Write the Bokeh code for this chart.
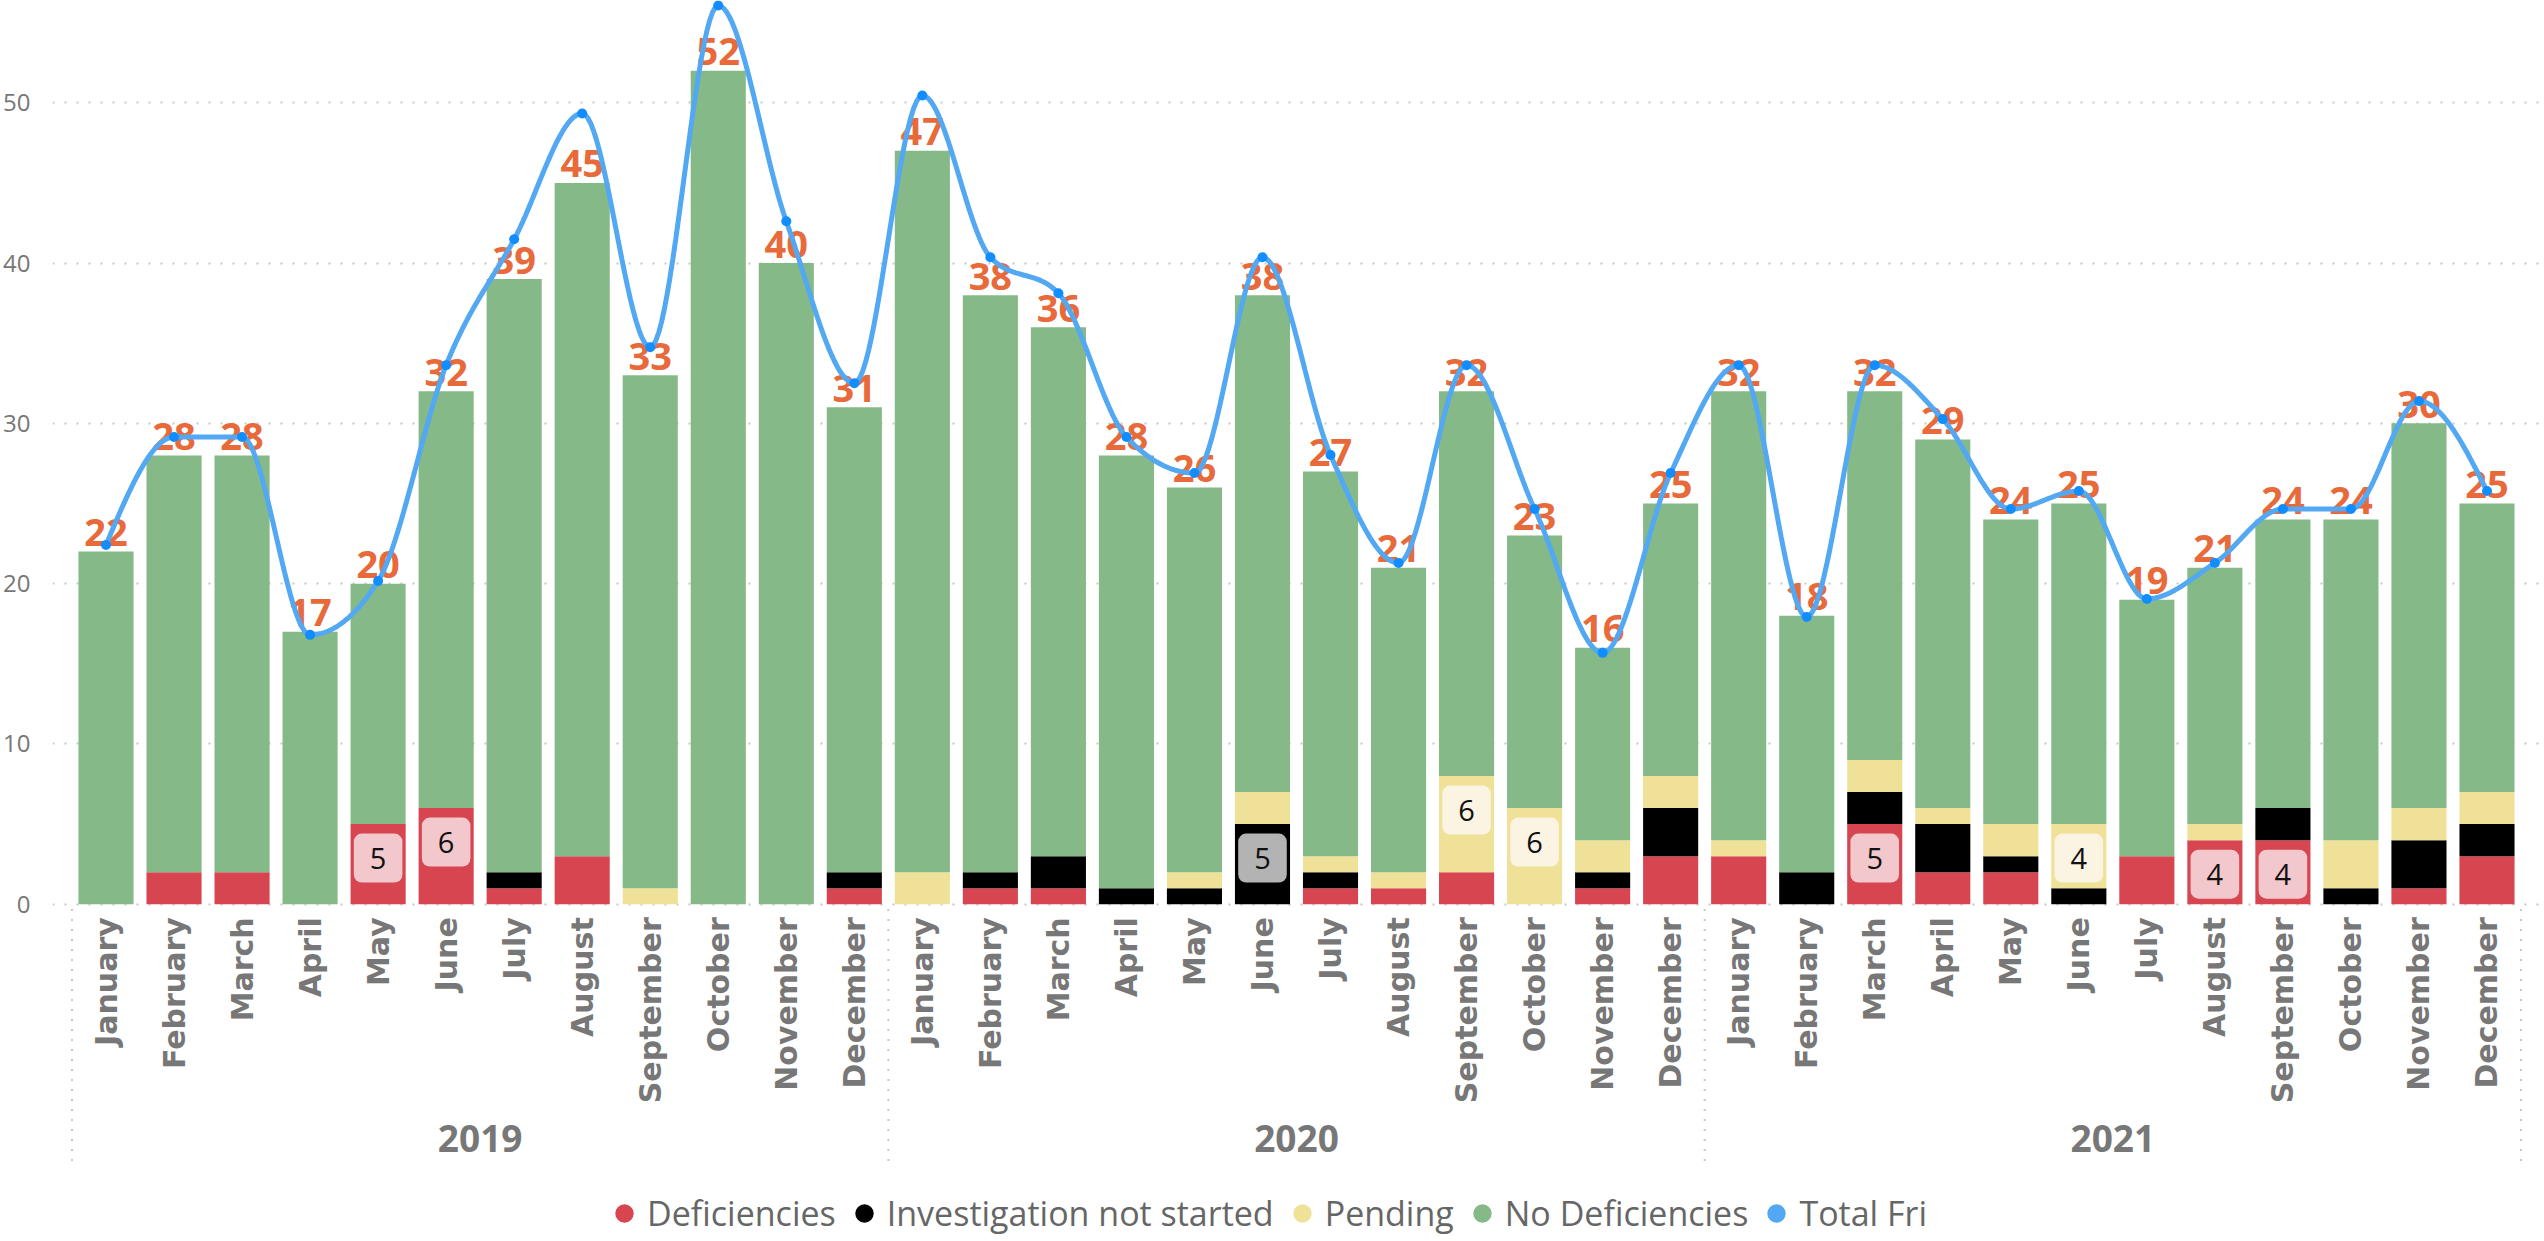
import math
from bokeh.plotting import figure
from bokeh.models import (FactorRange, Range1d, ColumnDataSource, FixedTicker,
                          Legend, LegendItem)
from bokeh.core.properties import value
from bokeh.embed import file_html
from bokeh.resources import INLINE

# ---------------- data ----------------
years = ["2019", "2020", "2021"]
months = ["January", "February", "March", "April", "May", "June", "July",
          "August", "September", "October", "November", "December"]

deficiencies = [0, 2, 2, 0, 5, 6, 1, 3, 0, 0, 0, 1,
                0, 1, 1, 0, 0, 0, 1, 1, 2, 0, 1, 3,
                3, 0, 5, 2, 2, 0, 3, 4, 4, 0, 1, 3]
investigation = [0, 0, 0, 0, 0, 0, 1, 0, 0, 0, 0, 1,
                 0, 1, 2, 1, 1, 5, 1, 0, 0, 0, 1, 3,
                 0, 2, 2, 3, 1, 1, 0, 0, 2, 1, 3, 2]
pending = [0, 0, 0, 0, 0, 0, 0, 0, 1, 0, 0, 0,
           2, 0, 0, 0, 1, 2, 1, 1, 6, 6, 2, 2,
           1, 0, 2, 1, 2, 4, 0, 1, 0, 3, 2, 2]
no_deficiencies = [22, 26, 26, 17, 15, 26, 37, 42, 32, 52, 40, 29,
                   45, 36, 33, 27, 24, 31, 24, 19, 24, 17, 12, 17,
                   28, 16, 23, 23, 19, 20, 16, 16, 18, 20, 24, 18]
total_fri = [22, 28, 28, 17, 20, 32, 39, 46, 33, 52, 40, 31,
             47, 38, 36, 28, 26, 38, 27, 21, 32, 24, 16, 26,
             32, 18, 32, 29, 24, 25, 19, 21, 24, 24, 30, 25]
y_ticks = [0, 10, 20, 30, 40, 50]

series_names = ["Deficiencies", "Investigation not started", "Pending", "No Deficiencies"]
series_values = [deficiencies, investigation, pending, no_deficiencies]
series_colors = ["#D64550", "#000000", "#F0E199", "#86B988"]
box_colors = ["#F2C8CC", "#B3B3B3", "#FBF4E2", None]
line_color = "#52A8F2"
marker_color = "#118DFF"
label_color = "#E8693A"
grey = "#777777"

# ---------------- derived ----------------
factors = [(y, m) for y in years for m in months]
nf = len(factors)
totals = [sum(v[i] for v in series_values) for i in range(nf)]
keys = ["d", "i", "p", "n"]
src = ColumnDataSource(dict(x=factors, d=deficiencies, i=investigation,
                            p=pending, n=no_deficiencies, total=totals,
                            total_txt=[str(t) for t in totals],
                            month=[f[1] for f in factors],
                            zero=[0] * nf))

x_range = FactorRange(*factors, factor_padding=0, group_padding=0, subgroup_padding=0,
                      range_padding=0.2865, range_padding_units="absolute")

# frame covers the whole canvas; value 0 sits ~904px below the top (category labels below it)
p = figure(width=2540, height=1238, x_range=x_range, y_range=Range1d(-20.85, 56.38),
           output_backend="svg", toolbar_location=None,
           min_border_left=51, min_border_right=0, min_border_top=0, min_border_bottom=0)
p.extra_y_ranges = {"fri": Range1d(-16.57, 52.28)}
p.outline_line_color = None
p.background_fill_color = "white"

# stacked bars
p.vbar_stack(keys, x="x", width=0.81, source=src, fill_color=series_colors,
             line_color=None)

# in-bar value boxes
cum = [0] * nf
for s, vals in enumerate(series_values):
    tops = [cum[i] + vals[i] for i in range(nf)]
    if box_colors[s] is not None:
        idx = [i for i in range(nf) if vals[i] >= 4]
        if idx:
            lsrc = ColumnDataSource(dict(x=[factors[i] for i in idx],
                                         y=[tops[i] for i in idx],
                                         t=[str(vals[i]) for i in idx]))
            p.text(x="x", y="y", text="t", source=lsrc, y_offset=34,
                   text_align="center", text_baseline="middle",
                   text_font=value("Open Sans"), text_font_size="29px",
                   text_color="#111111",
                   background_fill_color=box_colors[s], padding=(16, 14),
                   border_radius=8)
    cum = tops

# total labels
p.text(x="x", y="total", text="total_txt", source=src, y_offset=-19,
       text_align="center", text_baseline="alphabetic",
       text_font=value("Open Sans"), text_font_size="38px",
       text_font_style="bold", text_color=label_color)

# smooth (monotone-x) line for Total Fri
xs = [i + 0.5 for i in range(nf)]
ys = total_fri
n = len(xs)
tan = [0.0] * n
for i in range(1, n - 1):
    h0 = xs[i] - xs[i - 1]
    h1 = xs[i + 1] - xs[i]
    s0 = (ys[i] - ys[i - 1]) / h0
    s1 = (ys[i + 1] - ys[i]) / h1
    pp = (s0 * h1 + s1 * h0) / (h0 + h1)
    sg = (-1 if s0 < 0 else 1) + (-1 if s1 < 0 else 1)
    tan[i] = sg * min(abs(s0), abs(s1), 0.5 * abs(pp))
tan[0] = (3 * (ys[1] - ys[0]) / (xs[1] - xs[0]) - tan[1]) / 2
tan[-1] = (3 * (ys[-1] - ys[-2]) / (xs[-1] - xs[-2]) - tan[-2]) / 2
cx, cy = [], []
steps = 24
for i in range(n - 1):
    h = xs[i + 1] - xs[i]
    for k in range(steps):
        u = k / steps
        h00 = 2 * u**3 - 3 * u**2 + 1
        h10 = u**3 - 2 * u**2 + u
        h01 = -2 * u**3 + 3 * u**2
        h11 = u**3 - u**2
        cx.append(xs[i] + u * h)
        cy.append(h00 * ys[i] + h10 * h * tan[i] + h01 * ys[i + 1] + h11 * h * tan[i + 1])
cx.append(xs[-1])
cy.append(ys[-1])
p.line(cx, cy, line_color=line_color, line_width=5, y_range_name="fri")
p.scatter(xs, ys, size=10, marker="circle", fill_color=marker_color,
          line_color=None, y_range_name="fri")

# category axis (month labels, year labels, year separators) drawn on the x scale
p.text(x="x", y="zero", text="month", source=src, angle=math.pi / 2,
       y_offset=13, text_align="right", text_baseline="middle",
       text_font=value("DejaVu Sans"), text_font_style="bold",
       text_font_size="30px", text_color=grey)
nm = len(months)
p.text(x=[nm * k + nm / 2 for k in range(len(years))], y=[0] * len(years), text=years,
       y_offset=234, text_align="center", text_baseline="middle",
       text_font=value("Open Sans"), text_font_style="bold",
       text_font_size="37px", text_color=grey)
sep_x = [nm * k for k in range(len(years) + 1)]
p.segment(x0=sep_x, y0=[-0.3] * len(sep_x), x1=sep_x, y1=[-16.5] * len(sep_x),
          line_color="#C8C8C8", line_width=2, line_dash="2 8")

# grid / axes
p.xaxis.visible = False
p.xgrid.grid_line_color = None
p.ygrid.ticker = FixedTicker(ticks=y_ticks)
p.ygrid.grid_line_color = "#C8C8C8"
p.ygrid.grid_line_dash = "2 10"
p.ygrid.grid_line_width = 2

p.yaxis.ticker = FixedTicker(ticks=y_ticks)
p.yaxis.axis_line_color = None
p.yaxis.major_tick_line_color = None
p.yaxis.minor_tick_line_color = None
p.yaxis.major_tick_out = 0
p.yaxis.major_label_text_font = "Open Sans"
p.yaxis.major_label_text_font_size = "24px"
p.yaxis.major_label_text_color = grey
p.yaxis.major_label_standoff = 22

# legend (circle markers) at the bottom
items = []
for k, (name, col) in enumerate(zip(series_names + ["Total Fri"], series_colors + [line_color])):
    r = p.scatter(x=[factors[k]], y=[float("nan")], marker="circle",
                  fill_color=col, line_color=None)
    items.append(LegendItem(label=name, renderers=[r]))
legend = Legend(items=items, orientation="horizontal", location=(549, 2),
                label_text_font="Open Sans", label_text_font_size="34px",
                label_text_color="#666666", glyph_width=46, glyph_height=46,
                spacing=5, label_standoff=0, padding=0, margin=0,
                border_line_color=None, background_fill_alpha=0)
p.add_layout(legend, "center")

open("out.html", "w").write(file_html(p, INLINE))
